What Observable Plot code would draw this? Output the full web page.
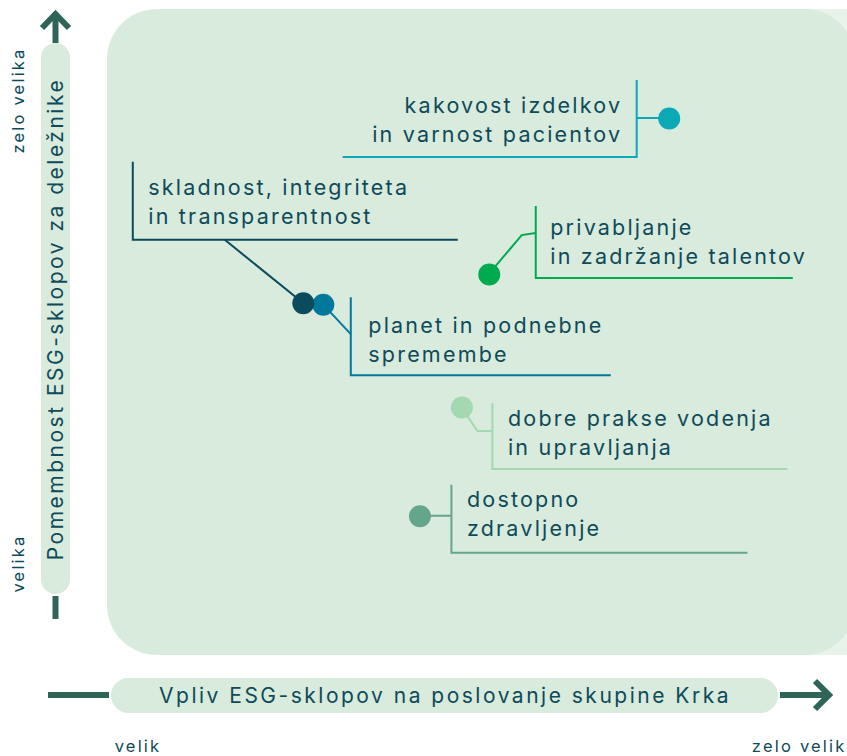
<!DOCTYPE html>
<html><head><meta charset="utf-8">
<script src="https://cdn.jsdelivr.net/npm/d3@7"></script>
<script src="https://cdn.jsdelivr.net/npm/@observablehq/plot@0.6"></script>
<style>
html,body{margin:0;padding:0;background:#fff;}
#chart svg{display:block;}
#chart text{font-family:Inter,Lato,sans-serif;}
</style></head><body><div id="chart"></div>
<script>
// ---- data ----
const topics = [
  "kakovost izdelkov\nin varnost pacientov",
  "planet in podnebne\nspremembe",
  "skladnost, integriteta\nin transparentnost",
  "privabljanje\nin zadržanje talentov",
  "dobre prakse vodenja\nin upravljanja",
  "dostopno\nzdravljenje"
];
const impact     = [4.797, 4.278, 4.248, 4.527, 4.486, 4.423];
const importance = [4.961, 4.559, 4.562, 4.624, 4.337, 4.102];
const colors = ["#0ba9b5", "#02799c", "#0b4b5e", "#00aa4f", "#a3d8b0", "#64a68b"];
const xTicks = [4, 5];
const xTickLabels = ["velik", "zelo velik"];
const yTicks = [4, 5];
const yTickLabels = ["velika", "zelo velika"];
const xTitle = "Vpliv ESG-sklopov na poslovanje skupine Krka";
const yTitle = "Pomembnost ESG-sklopov za deležnike";

// ---- label layout (pixel offsets from each point) ----
const layout = [
  {bx:-32,  top:-38,  bot:39, len:-294, conn:[[0,0],[-32,0]],            tx:-47,  base:-5,   anchor:"end"},
  {bx:28,   top:-7,   bot:71, len:260,  conn:[[0,0],[28,30]],             tx:45,   base:29,   anchor:"start"},
  {bx:-170, top:-141, bot:-63,len:325,  conn:[[0,0],[-78,-63]],           tx:-155, base:-108, anchor:"start"},
  {bx:47,   top:-68,  bot:4,  len:257,  conn:[[0,0],[33,-39],[47,-41]],   tx:61,   base:-39,  anchor:"start"},
  {bx:31,   top:-4,   bot:62, len:295,  conn:[[0,0],[16,24],[31,24]],     tx:46,   base:19,   anchor:"start"},
  {bx:32,   top:-31,  bot:37, len:296,  conn:[[0,0],[32,0]],              tx:47,   base:-9,   anchor:"start"}
];

const textColor = "#0e4a5a";
const axisColor = "#2f6459";
const panel = "#d8ebdc";
const idx = d3.range(topics.length);
const fs = 21.5, fsTitle = 21, fsTick = 16.5;
const tracking = {[fs]: "2.2px", [fsTitle]: "2.5px", [fsTick]: "2.2px"};

const decor = (index, scales, values, dims) => {
  const g = d3.create("svg:g");
  g.append("rect").attr("x", 790).attr("y", 9).attr("width", 80).attr("height", 646).attr("fill", "#e8f3ea");
  g.append("rect").attr("x", 107).attr("y", 9).attr("width", 748).attr("height", 646).attr("rx", 50).attr("fill", panel);
  // y axis pill + arrow
  g.append("rect").attr("x", 41).attr("y", 43).attr("width", 29).attr("height", 551).attr("rx", 14.5).attr("fill", panel);
  g.append("line").attr("x1", 55.5).attr("x2", 55.5).attr("y1", 43).attr("y2", 14).attr("stroke", axisColor).attr("stroke-width", 6);
  g.append("polyline").attr("points", "42,28 55.5,14 69,28").attr("fill", "none").attr("stroke", axisColor).attr("stroke-width", 6);
  g.append("line").attr("x1", 55.5).attr("x2", 55.5).attr("y1", 596).attr("y2", 619).attr("stroke", axisColor).attr("stroke-width", 6);
  // x axis pill + arrow
  g.append("rect").attr("x", 111).attr("y", 678).attr("width", 667).attr("height", 35).attr("rx", 17.5).attr("fill", panel);
  g.append("line").attr("x1", 48).attr("x2", 109).attr("y1", 695).attr("y2", 695).attr("stroke", axisColor).attr("stroke-width", 6);
  g.append("line").attr("x1", 780).attr("x2", 829).attr("y1", 695).attr("y2", 695).attr("stroke", axisColor).attr("stroke-width", 6);
  g.append("polyline").attr("points", "815,681 829,695 815,709").attr("fill", "none").attr("stroke", axisColor).attr("stroke-width", 6);
  return g.node();
};

const brackets = (index, scales) => {
  const g = d3.create("svg:g").attr("fill", "none").attr("stroke-width", 2);
  idx.forEach(i => {
    const px = scales.x(impact[i]), py = scales.y(importance[i]);
    const L = layout[i];
    g.append("polyline").attr("stroke", colors[i])
      .attr("points", L.conn.map(([dx, dy]) => `${px + dx},${py + dy}`).join(" "));
    const x0 = px + L.bx;
    g.append("polyline").attr("stroke", colors[i])
      .attr("points", `${x0},${py + L.top} ${x0},${py + L.bot} ${x0 + L.len},${py + L.bot}`);
  });
  return g.node();
};

const plot = Plot.plot({
  width: 847, height: 756,
  marginTop: 0, marginRight: 0, marginBottom: 0, marginLeft: 0,
  x: {domain: [4, 5], range: [137.5, 804], axis: null},
  y: {domain: [4, 5], range: [563, 100], axis: null},
  marks: [
    decor,
    brackets,
    Plot.dot(idx, {x: i => impact[i], y: i => importance[i], r: 11, fill: i => colors[i], stroke: "none"}),
    ...idx.map(i => Plot.text([i], {
      x: j => impact[j], y: j => importance[j], text: j => topics[j],
      dx: layout[i].tx, dy: layout[i].base - 0.71 * fs - 6,
      textAnchor: layout[i].anchor, lineAnchor: "top", lineHeight: 1.36,
      fontSize: fs, fill: textColor
    })),
    Plot.text([xTicks[0]], {x: d => d, text: () => xTickLabels[0], frameAnchor: "bottom", lineAnchor: "bottom", dy: -5, fontSize: fsTick, fill: textColor}),
    Plot.text([xTicks[1]], {x: d => d, text: () => xTickLabels[1], frameAnchor: "bottom", lineAnchor: "bottom", dy: -5, dx: 42, textAnchor: "end", fontSize: fsTick, fill: textColor}),
    Plot.text(yTicks, {y: d => d, text: (d, i) => yTickLabels[i], frameAnchor: "left", dx: 18, rotate: -90, textAnchor: "middle", lineAnchor: "middle", fontSize: fsTick, fill: textColor}),
    Plot.text([xTitle], {frameAnchor: "top-left", dx: 444.5, dy: 695.5, textAnchor: "middle", lineAnchor: "middle", fontSize: fsTitle, fill: textColor}),
    Plot.text([yTitle], {frameAnchor: "top-left", dx: 55.5, dy: 318.5, rotate: -90, textAnchor: "middle", lineAnchor: "middle", fontSize: fsTitle, fill: textColor})
  ]
});
// letter tracking by text size
d3.select(plot).selectAll("g[font-size]").each(function() {
  const t = tracking[parseFloat(this.getAttribute("font-size"))];
  if (t) this.setAttribute("letter-spacing", t);
});
document.getElementById("chart").appendChild(plot);
</script></body></html>
